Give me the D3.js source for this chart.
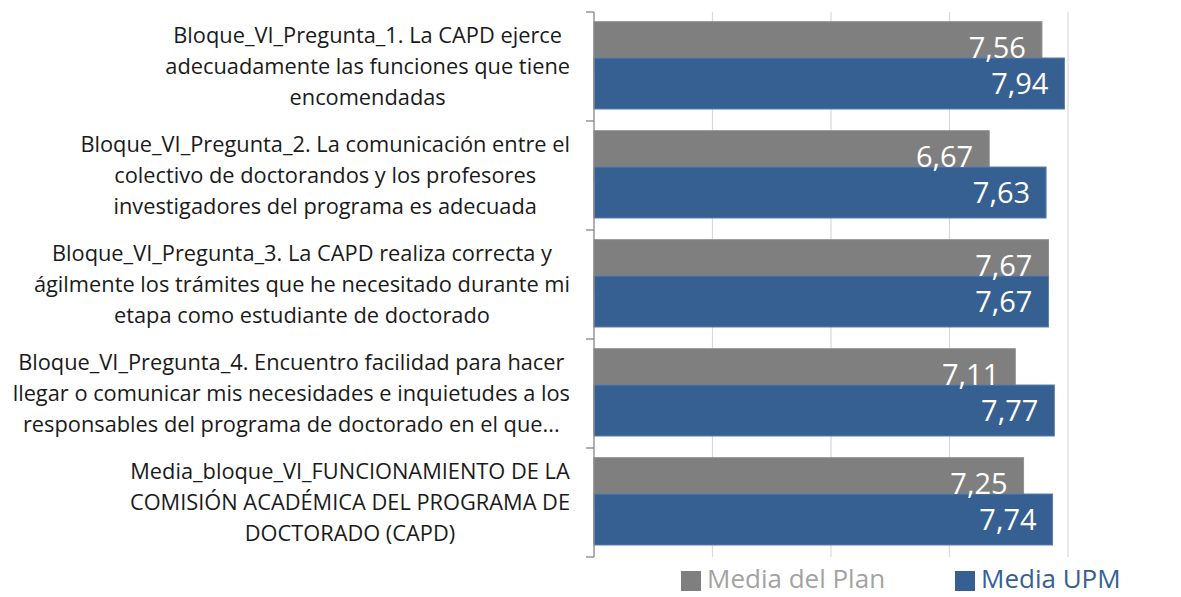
<!DOCTYPE html>
<html>
<head>
<meta charset="utf-8">
<script src="https://cdn.jsdelivr.net/npm/d3@7"></script>
<style>
  html, body { margin: 0; padding: 0; background: #fff; }
  svg { display: block; font-family: "Open Sans", sans-serif; }
</style>
</head>
<body>
<div id="chart"></div>
<script>
// category labels, already broken into lines as in the original
const categories = [
  ["Bloque_VI_Pregunta_1. La CAPD ejerce", "adecuadamente las funciones que tiene", "encomendadas"],
  ["Bloque_VI_Pregunta_2. La comunicación entre el", "colectivo de doctorandos y los profesores", "investigadores del programa es adecuada"],
  ["Bloque_VI_Pregunta_3. La CAPD realiza correcta y", "ágilmente los trámites que he necesitado durante mi", "etapa como estudiante de doctorado"],
  ["Bloque_VI_Pregunta_4. Encuentro facilidad para hacer", "llegar o comunicar mis necesidades e inquietudes a los", "responsables del programa de doctorado en el que..."],
  ["Media_bloque_VI_FUNCIONAMIENTO DE LA", "COMISIÓN ACADÉMICA DEL PROGRAMA DE", "DOCTORADO (CAPD)"]
];
const mediaPlan = [7.56, 6.67, 7.67, 7.11, 7.25];
const mediaUPM  = [7.94, 7.63, 7.67, 7.77, 7.74];
const seriesNames = ["Media del Plan", "Media UPM"];
const gridTicks = [2, 4, 6, 8];

const W = 1181, H = 597;
const colors = { plan: "#7f7f7f", upm: "#376092" };

const svg = d3.select("#chart").append("svg")
  .attr("width", W)
  .attr("height", H);

// scales
const x = d3.scaleLinear().domain([0, 8]).range([594, 1068]);
const y = d3.scaleBand().domain(d3.range(categories.length)).range([12, 557]).padding(0);
const bw = y.bandwidth();
const fmt = v => d3.format(".2f")(v).replace(".", ",");

// gridlines
svg.append("g").selectAll("line")
  .data(gridTicks)
  .join("line")
  .attr("x1", d => x(d)).attr("x2", d => x(d))
  .attr("y1", 12).attr("y2", 557)
  .attr("stroke", "#d9d9d9")
  .attr("stroke-width", 1.2);

// bars: grey first, blue drawn over it
const barH = bw * 0.468;
const offPlan = bw * 0.089;
const offUPM = bw * 0.422;

const series = [
  { key: "plan", values: mediaPlan, off: offPlan, fill: colors.plan, stroke: "#8e8e8e" },
  { key: "upm", values: mediaUPM, off: offUPM, fill: colors.upm, stroke: "#5b7fae" }
];

series.forEach(s => {
  svg.append("g").selectAll("rect")
    .data(s.values)
    .join("rect")
    .attr("x", x(0))
    .attr("y", (d, i) => y(i) + s.off)
    .attr("width", d => x(d) - x(0))
    .attr("height", barH)
    .attr("fill", s.fill)
    .attr("stroke", s.stroke)
    .attr("stroke-width", 1);
});

// value labels
series.forEach(s => {
  svg.append("g").selectAll("text")
    .data(s.values)
    .join("text")
    .attr("x", d => x(d) - 16)
    .attr("y", (d, i) => y(i) + s.off + barH / 2)
    .attr("dy", "0.36em")
    .attr("text-anchor", "end")
    .attr("fill", "#fff")
    .style("font-size", "29px")
    .text(d => fmt(d));
});

// axis line and ticks at band boundaries
svg.append("line")
  .attr("x1", x(0)).attr("x2", x(0))
  .attr("y1", 12).attr("y2", 557)
  .attr("stroke", "#868686")
  .attr("stroke-width", 1.3);

svg.append("g").selectAll("line")
  .data(d3.range(categories.length + 1))
  .join("line")
  .attr("x1", x(0) - 8).attr("x2", x(0))
  .attr("y1", i => 12 + i * bw).attr("y2", i => 12 + i * bw)
  .attr("stroke", "#868686")
  .attr("stroke-width", 1.3);

// category labels: lines centred within a block right-aligned to the axis
const lineH = 31;
const labelRight = 570;
categories.forEach((lines, i) => {
  const g = svg.append("g");
  const texts = g.selectAll("text")
    .data(lines)
    .join("text")
    .attr("y", (d, j) => y(i) + bw / 2 + (j - (lines.length - 1) / 2) * lineH)
    .attr("dy", "0.35em")
    .attr("text-anchor", "middle")
    .attr("fill", "#1a1a1a")
    .style("font-size", "21.8px")
    .text(d => d);
  const maxW = d3.max(texts.nodes(), n => n.getComputedTextLength());
  texts.attr("x", labelRight - maxW / 2);
});

// legend
const legend = svg.append("g");
const legendItems = [
  { name: seriesNames[0], fill: colors.plan, text: "#a3a3a3", x: 681 },
  { name: seriesNames[1], fill: colors.upm, text: colors.upm, x: 955 }
];
legendItems.forEach(d => {
  legend.append("rect")
    .attr("x", d.x).attr("y", 571)
    .attr("width", 20).attr("height", 20)
    .attr("fill", d.fill);
  legend.append("text")
    .attr("x", d.x + 26).attr("y", 588)
    .attr("fill", d.text)
    .style("font-size", "26px")
    .text(d.name);
});
</script>
</body>
</html>
